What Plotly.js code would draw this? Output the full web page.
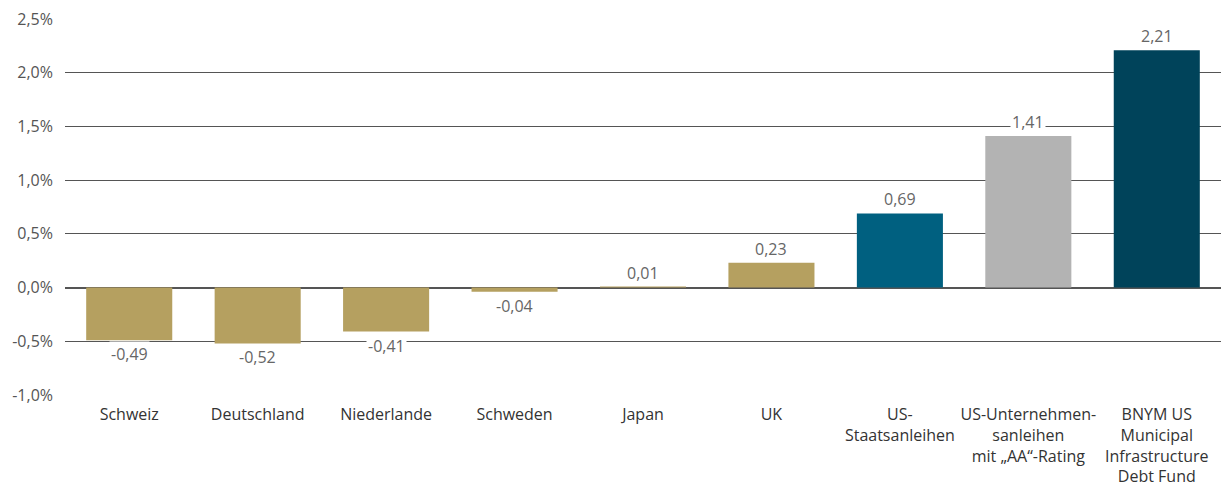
<!DOCTYPE html>
<html>
<head>
<meta charset="utf-8">
<script src="https://cdn.plot.ly/plotly-3.0.1.min.js"></script>
<style>
  html, body { margin: 0; padding: 0; background: #fff; }
  #chart { width: 1224px; height: 487px; }
</style>
</head>
<body>
<div id="chart"></div>
<script>
var categories = [
  'Schweiz', 'Deutschland', 'Niederlande', 'Schweden', 'Japan', 'UK',
  'US-<br>Staatsanleihen',
  'US-Unternehmen-<br>sanleihen<br>mit „AA“-Rating',
  'BNYM US<br>Municipal<br>Infrastructure<br>Debt Fund'
];
var values = [-0.49, -0.52, -0.41, -0.04, 0.01, 0.23, 0.69, 1.41, 2.21];
var barColors = ['#b5a060', '#b5a060', '#b5a060', '#b5a060', '#b5a060', '#b5a060',
                 '#006080', '#b3b3b3', '#00435a'];
var yTicks = [-1, -0.5, 0, 0.5, 1, 1.5, 2, 2.5];
var yTickText = yTicks.map(function (t) { return t.toFixed(1).replace('.', ',') + '%'; });

var FONT = '"Open Sans", sans-serif';

// value labels sit on a white box so they break the gridlines
var labels = values.map(function (v, i) {
  return {
    x: categories[i],
    y: v,
    text: v.toFixed(2).replace('.', ','),
    showarrow: false,
    yshift: v >= 0 ? 14 : -14,
    bgcolor: '#ffffff',
    borderpad: 1,
    font: { family: FONT, size: 16, color: '#666' }
  };
});

var trace = {
  type: 'bar',
  x: categories,
  y: values,
  marker: { color: barColors },
  hoverinfo: 'none'
};

var layout = {
  width: 1224,
  height: 487,
  margin: { l: 65, r: 3, t: 19, b: 92 },
  paper_bgcolor: '#fff',
  plot_bgcolor: '#fff',
  bargap: 0.33,
  showlegend: false,
  font: { family: FONT, size: 16, color: '#333' },
  xaxis: {
    type: 'category',
    showgrid: false,
    zeroline: false,
    showline: false,
    ticks: '',
    ticklabelstandoff: 8,
    tickfont: { family: FONT, size: 16, color: '#333' }
  },
  yaxis: {
    range: [-1, 2.5],
    tickmode: 'array',
    tickvals: yTicks,
    ticktext: yTickText,
    showgrid: true,
    gridcolor: '#555',
    gridwidth: 1,
    zeroline: true,
    zerolinecolor: '#555',
    zerolinewidth: 2,
    showline: false,
    ticks: '',
    ticklabelstandoff: 11,
    tickfont: { family: FONT, size: 16, color: '#555' }
  },
  annotations: labels
};

Plotly.newPlot('chart', [trace], layout, { displayModeBar: false, staticPlot: true });
</script>
</body>
</html>
